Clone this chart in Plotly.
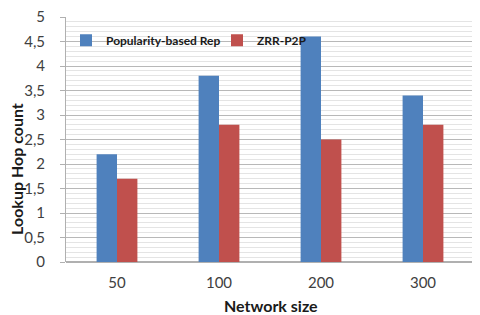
import plotly.graph_objects as go

categories = ["50", "100", "200", "300"]
popularity_rep = [2.2, 3.8, 4.6, 3.4]
zrr_p2p = [1.7, 2.8, 2.5, 2.8]
y_ticks = [0, 0.5, 1, 1.5, 2, 2.5, 3, 3.5, 4, 4.5, 5]

fig = go.Figure()
fig.add_trace(go.Bar(x=categories, y=popularity_rep, name="Popularity-based Rep",
                     marker=dict(color="#4F81BD", line=dict(width=0))))
fig.add_trace(go.Bar(x=categories, y=zrr_p2p, name="ZRR-P2P",
                     marker=dict(color="#C0504D", line=dict(width=0))))

fig.update_layout(
    width=472, height=307,
    margin=dict(l=58, r=6, t=9, b=53, autoexpand=False),
    paper_bgcolor="white", plot_bgcolor="white",
    separators=", ",
    barmode="group", bargap=0.6, bargroupgap=0,
    font=dict(family="Lato", size=15, color="#404040"),
    showlegend=True,
    legend=dict(orientation="h", x=0.0, y=0.905, xanchor="left", yanchor="middle",
                font=dict(family="Lato", size=12, color="#1a1a1a", weight="bold"),
                bgcolor="rgba(0,0,0,0)", itemwidth=30, tracegroupgap=0,
                entrywidth=106, entrywidthmode="pixels"),
    xaxis=dict(type="category", showgrid=False, showline=False, ticks="", automargin=False,
               tickfont=dict(size=15, color="#404040"), ticklabelstandoff=10),
    yaxis=dict(range=[0, 5], tickvals=y_ticks, showgrid=True, gridcolor="#b8b8b8", gridwidth=1,
               showline=True, linecolor="#b0b0b0", linewidth=1, ticks="outside", ticklen=5,
               tickcolor="#b0b0b0", zeroline=True, zerolinecolor="#b0b0b0", automargin=False,
               tickfont=dict(size=15, color="#404040"), ticklabelstandoff=12,
               ticklabeloverflow="allow",
               minor=dict(dtick=0.1, showgrid=True, gridcolor="#e4e4e4", gridwidth=1)),
    annotations=[
        dict(text="Network size", xref="paper", yref="paper", x=0.502, y=-0.176,
             xanchor="center", yanchor="middle", showarrow=False,
             font=dict(family="Lato", size=16, color="#1a1a1a", weight="bold")),
        dict(text="Lookup Hop count", xref="paper", yref="paper", x=-0.12, y=0.38,
             xanchor="center", yanchor="middle", showarrow=False, textangle=-90,
             font=dict(family="Lato", size=16, color="#1a1a1a", weight="bold")),
    ],
)

fig.write_html("out.html")
